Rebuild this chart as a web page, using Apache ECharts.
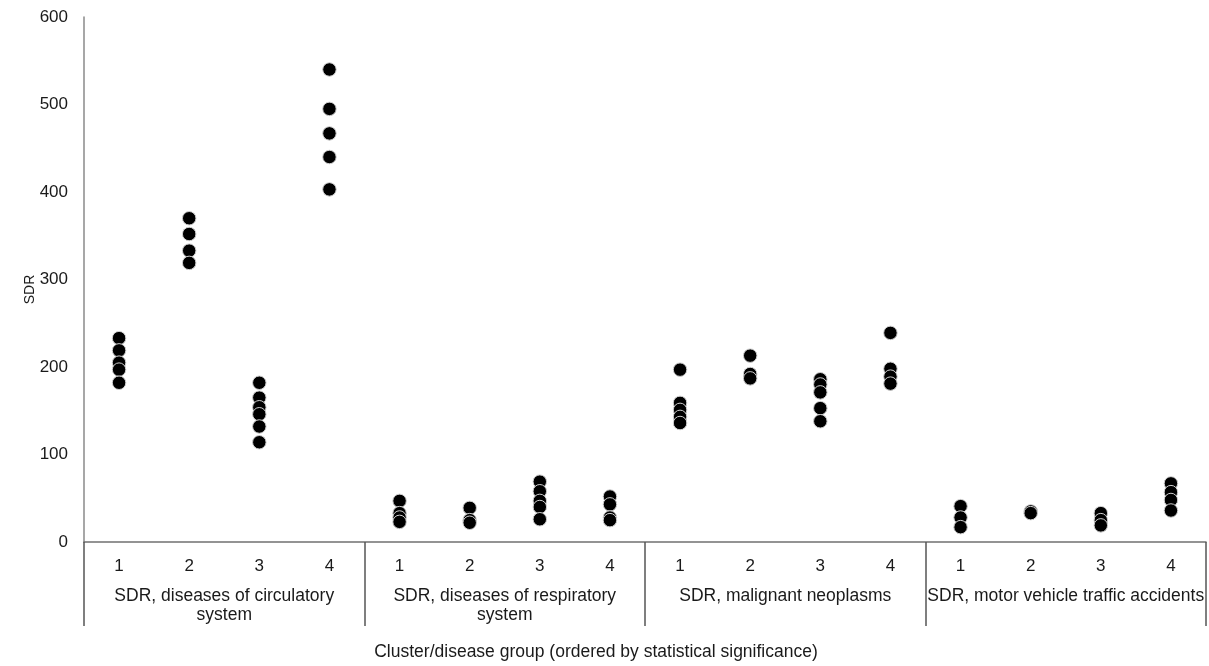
<!DOCTYPE html>
<html>
<head>
<meta charset="utf-8">
<script src="https://cdn.jsdelivr.net/npm/echarts@6/dist/echarts.min.js"></script>
<style>html,body{margin:0;padding:0;background:#fff;}#c{width:1209px;height:666px;}</style>
</head>
<body>
<div id="c"></div>
<script>
const groupNames = [
  "SDR, diseases of circulatory\nsystem",
  "SDR, diseases of respiratory\nsystem",
  "SDR, malignant neoplasms",
  "SDR, motor vehicle traffic accidents"
];
const clusterLabels = ["1", "2", "3", "4"];
const yTicks = { min: 0, max: 600, interval: 100 };

// SDR values per cluster (1..4) for each disease group
const circulatory = [
  [233, 219, 205, 197, 182],
  [370, 352, 333, 319],
  [182, 165, 154, 146, 132, 114],
  [540, 495, 467, 440, 403]
];
const respiratory = [
  [47, 33, 28, 23],
  [39, 25, 22],
  [69, 58, 47, 40, 26],
  [52, 43, 28, 25]
];
const neoplasms = [
  [197, 159, 151, 143, 136],
  [213, 192, 187],
  [186, 180, 171, 153, 138],
  [239, 198, 189, 181]
];
const traffic = [
  [41, 28, 17],
  [35, 33],
  [33, 25, 19],
  [67, 57, 48, 36]
];

const groups = [circulatory, respiratory, neoplasms, traffic];
const categories = [];
groups.forEach((g, gi) => clusterLabels.forEach(c => categories.push(gi + "|" + c)));
const points = [];
groups.forEach((g, gi) => g.forEach((vals, ci) => vals.forEach(v => points.push([gi * 4 + ci, v]))));

const font = "'Liberation Sans', Arial, sans-serif";
const chart = echarts.init(document.getElementById('c'));
chart.setOption({
  animation: false,
  grid: { left: 84, right: 3, top: 17, bottom: 120, containLabel: false },
  xAxis: [
    {
      type: 'category',
      data: categories,
      boundaryGap: true,
      axisLine: { show: true, lineStyle: { color: '#707070', width: 1.5 } },
      axisTick: { show: false },
      axisLabel: {
        formatter: v => v.split('|')[1],
        margin: 16, fontSize: 17, color: '#1a1a1a', fontFamily: font
      },
      splitLine: { show: false }
    },
    {
      type: 'category',
      data: groupNames,
      position: 'bottom',
      boundaryGap: true,
      axisLine: { show: false },
      axisTick: { show: true, length: 84, interval: 0, lineStyle: { color: '#555', width: 1.5 } },
      axisLabel: {
        interval: 0, margin: 45, fontSize: 17.5, lineHeight: 19, color: '#1a1a1a',
        fontFamily: font, align: 'center'
      },
      name: 'Cluster/disease group (ordered by statistical significance)',
      nameLocation: 'middle',
      nameGap: 101,
      nameMoveOverlap: false,
      nameTextStyle: { fontSize: 17.5, color: '#1a1a1a', fontFamily: font, padding: [0, 98, 0, 0] }
    }
  ],
  yAxis: {
    type: 'value',
    min: yTicks.min, max: yTicks.max, interval: yTicks.interval,
    axisLine: { show: true, lineStyle: { color: '#8a8a8a', width: 1.5 } },
    axisTick: { show: false },
    splitLine: { show: false },
    axisLabel: { fontSize: 17, color: '#1a1a1a', fontFamily: font, margin: 16 },
    name: 'SDR',
    nameLocation: 'middle',
    nameGap: 47,
    nameRotate: 90,
    nameMoveOverlap: false,
    nameTextStyle: { fontSize: 14, color: '#1a1a1a', fontFamily: font, padding: [0, 20, 0, 0] }
  },
  series: [{
    type: 'scatter',
    xAxisIndex: 0,
    data: points,
    symbol: 'circle',
    symbolSize: 13.5,
    itemStyle: { color: '#000', borderColor: '#d0d0d0', borderWidth: 1, opacity: 1 }
  }]
});
</script>
</body>
</html>
